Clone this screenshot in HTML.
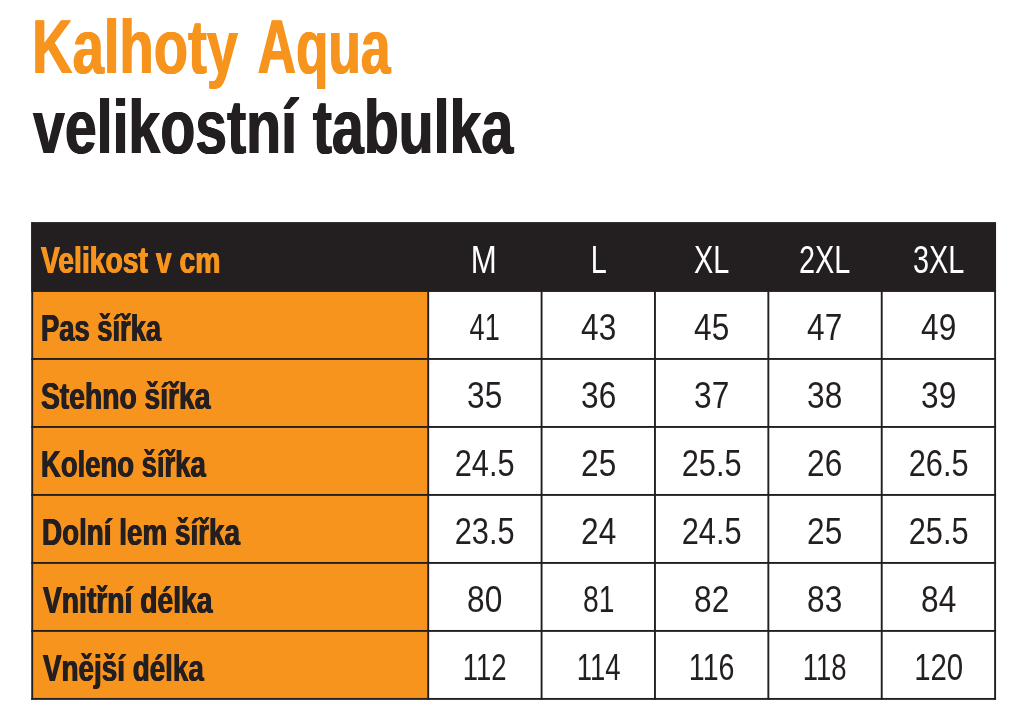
<!DOCTYPE html>
<html lang="cs">
<head>
<meta charset="utf-8">
<title>Kalhoty Aqua – velikostní tabulka</title>
<style>
html,body{margin:0;padding:0;background:#fff;}
body{width:1028px;height:720px;position:relative;overflow:hidden;font-family:"Liberation Sans",sans-serif;color:#231f20;}
#grid{position:absolute;left:0;top:0;width:1028px;height:720px;}
.t{position:absolute;white-space:nowrap;line-height:1;margin:0;padding:0;}
.h{font-weight:bold;font-size:75.5px;transform-origin:0 0;left:35px;text-shadow:.8px 0 0 currentColor,-.8px 0 0 currentColor;}
.h1 span{display:inline-block;margin-left:-4.5px;transform:scaleX(.946);transform-origin:100% 0;}
.h1{color:#f7941d;top:10px;left:32px;transform:scaleX(.744);}
.h2{color:#231f20;top:90.2px;left:33px;transform:scaleX(.758);}
.lab{font-weight:bold;font-size:37px;left:40px;transform-origin:0 0;transform:scaleX(.765);text-shadow:.6px 0 0 currentColor,-.6px 0 0 currentColor;}
.hd{color:#f7941d;}
.n{font-weight:normal;font-size:37.2px;width:113.4px;text-align:center;transform:scaleX(.85);transform-origin:50% 0;}
.d{transform:scaleX(.827)}
.w{color:#fff;font-size:39px;transform:scaleX(.74);}
.l0{left:40.5px}
.l1{left:41.2px;transform:scaleX(.739)}
.l2{left:41.1px;transform:scaleX(.763)}
.l3{left:41.2px;transform:scaleX(.742)}
.l4{left:41.7px;transform:scaleX(.752)}
.l5{left:42.9px;transform:scaleX(.763)}
.l6{left:42.9px;transform:scaleX(.752)}
.c1{left:428.19px}.c2{left:541.57px}.c3{left:654.95px}.c4{left:768.33px}.c5{left:881.71px}
.r0{top:240.2px}.r1{top:309.2px}.r2{top:377.2px}.r3{top:445.2px}.r4{top:513.2px}.r5{top:581.2px}.r6{top:649.2px}
.w.r0{top:239.6px}
.k1{transform:scaleX(.73)}.k2{transform:scaleX(.76)}.k3{transform:scaleX(.74)}.k4{transform:scaleX(.77)}.k5{transform:scaleX(.79)}
.w.m{transform:scaleX(.8);margin-left:-.8px}
.lab.r0{top:241.6px}.lab.r1{top:309.6px}.lab.r2{top:377.6px}.lab.r3{top:445.6px}.lab.r4{top:513.6px}.lab.r5{top:581.6px}.lab.r6{top:649.5px}
</style>
</head>
<body>
<svg id="grid" width="1028" height="720" viewBox="0 0 1028 720">
  <rect x="32" y="291" width="396.20" height="407.91" fill="#f7941d"/>
  <rect x="31.25" y="222.10" width="964.80" height="69.85" fill="#231f20"/>
  <g fill="#231f20">
    <rect x="31.25" y="222.10" width="1.90" height="477.75"/>
    <rect x="427.25" y="291" width="1.90" height="408.85"/>
    <rect x="540.63" y="291" width="1.90" height="408.85"/>
    <rect x="654.01" y="291" width="1.90" height="408.85"/>
    <rect x="767.39" y="291" width="1.90" height="408.85"/>
    <rect x="880.77" y="291" width="1.90" height="408.85"/>
    <rect x="994.15" y="291" width="1.90" height="408.85"/>
    <rect x="31.25" y="358.01" width="964.80" height="1.90"/>
    <rect x="31.25" y="426.00" width="964.80" height="1.90"/>
    <rect x="31.25" y="493.99" width="964.80" height="1.90"/>
    <rect x="31.25" y="561.98" width="964.80" height="1.90"/>
    <rect x="31.25" y="629.97" width="964.80" height="1.90"/>
    <rect x="31.25" y="697.96" width="964.80" height="1.90"/>
  </g>
</svg>

<h1 class="t h h1">Kalhoty <span>Aqua</span></h1>
<h1 class="t h h2">velikostní tabulka</h1>

<div class="t lab hd l0 r0">Velikost v cm</div>
<div class="t n w m c1 r0">M</div>
<div class="t n w c2 r0">L</div>
<div class="t n w c3 r0">XL</div>
<div class="t n w c4 r0">2XL</div>
<div class="t n w c5 r0">3XL</div>

<div class="t lab l1 r1">Pas šířka</div>
<div class="t n k1 c1 r1">41</div>
<div class="t n c2 r1">43</div>
<div class="t n c3 r1">45</div>
<div class="t n c4 r1">47</div>
<div class="t n c5 r1">49</div>

<div class="t lab l2 r2">Stehno šířka</div>
<div class="t n c1 r2">35</div>
<div class="t n c2 r2">36</div>
<div class="t n c3 r2">37</div>
<div class="t n c4 r2">38</div>
<div class="t n c5 r2">39</div>

<div class="t lab l3 r3">Koleno šířka</div>
<div class="t n d c1 r3">24.5</div>
<div class="t n c2 r3">25</div>
<div class="t n d c3 r3">25.5</div>
<div class="t n c4 r3">26</div>
<div class="t n d c5 r3">26.5</div>

<div class="t lab l4 r4">Dolní lem šířka</div>
<div class="t n d c1 r4">23.5</div>
<div class="t n c2 r4">24</div>
<div class="t n d c3 r4">24.5</div>
<div class="t n c4 r4">25</div>
<div class="t n d c5 r4">25.5</div>

<div class="t lab l5 r5">Vnitřní délka</div>
<div class="t n c1 r5">80</div>
<div class="t n k2 c2 r5">81</div>
<div class="t n c3 r5">82</div>
<div class="t n c4 r5">83</div>
<div class="t n c5 r5">84</div>

<div class="t lab l6 r6">Vnější délka</div>
<div class="t n k3 c1 r6">112</div>
<div class="t n k3 c2 r6">114</div>
<div class="t n k4 c3 r6">116</div>
<div class="t n k3 c4 r6">118</div>
<div class="t n k5 c5 r6">120</div>
</body>
</html>
